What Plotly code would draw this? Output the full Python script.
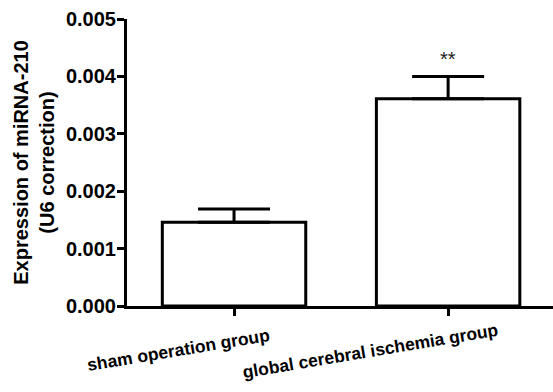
import plotly.graph_objects as go

categories = ["sham operation group", "global cerebral ischemia group"]
means = [0.00146, 0.00361]
sem = [0.00023, 0.00039]
y_ticks = [0.000, 0.001, 0.002, 0.003, 0.004, 0.005]
y_tick_labels = ["0.000", "0.001", "0.002", "0.003", "0.004", "0.005"]
significance = ["", "**"]

FONT = "Liberation Sans, Arial, sans-serif"

fig = go.Figure()
fig.add_trace(go.Bar(
    x=[0, 1],
    y=means,
    width=0.67,
    marker=dict(color="white", line=dict(color="black", width=3)),
    error_y=dict(type="data", array=sem, arrayminus=[0, 0], symmetric=False,
                 color="black", thickness=3, width=36),
    showlegend=False,
))

label_xshift = [-56, -78]
label_yshift = [-44, -45]
for i, (cat, sig) in enumerate(zip(categories, significance)):
    fig.add_annotation(x=i, y=0, xref="x", yref="paper", text="<b>" + cat + "</b>",
                       showarrow=False, textangle=-9.5, xanchor="center", yanchor="middle",
                       xshift=label_xshift[i], yshift=label_yshift[i],
                       font=dict(family=FONT, size=17.5, color="black"))
    if sig:
        fig.add_annotation(x=i, y=means[i] + sem[i], xref="x", yref="y", text=sig,
                           showarrow=False, yanchor="bottom", yshift=4,
                           font=dict(family=FONT, size=20, color="#222"))

fig.update_layout(
    width=553, height=392,
    margin=dict(l=127, r=0, t=19, b=86),
    plot_bgcolor="white", paper_bgcolor="white",
    font=dict(family=FONT, color="black"),
    bargap=0.33,
)
fig.update_xaxes(range=[-0.5, 1.49], showline=True, linecolor="black", linewidth=3,
                 tickmode="array", tickvals=[0, 1], ticktext=["", ""],
                 ticks="outside", ticklen=7, tickwidth=3, tickcolor="black",
                 showgrid=False, zeroline=False)
fig.update_yaxes(range=[0, 0.005], showline=True, linecolor="black", linewidth=3,
                 tickmode="array", tickvals=y_ticks,
                 ticktext=["<b>" + t + "</b>" for t in y_tick_labels],
                 ticks="outside", ticklen=7, tickwidth=3, tickcolor="black",
                 ticklabelstandoff=-3,
                 tickfont=dict(family=FONT, size=20, color="black"),
                 showgrid=False, zeroline=False,
                 title=dict(text="<b>Expression of miRNA-210<br>(U6 correction)</b>",
                            font=dict(family=FONT, size=20, color="black"), standoff=6))

fig.write_html("out.html")
